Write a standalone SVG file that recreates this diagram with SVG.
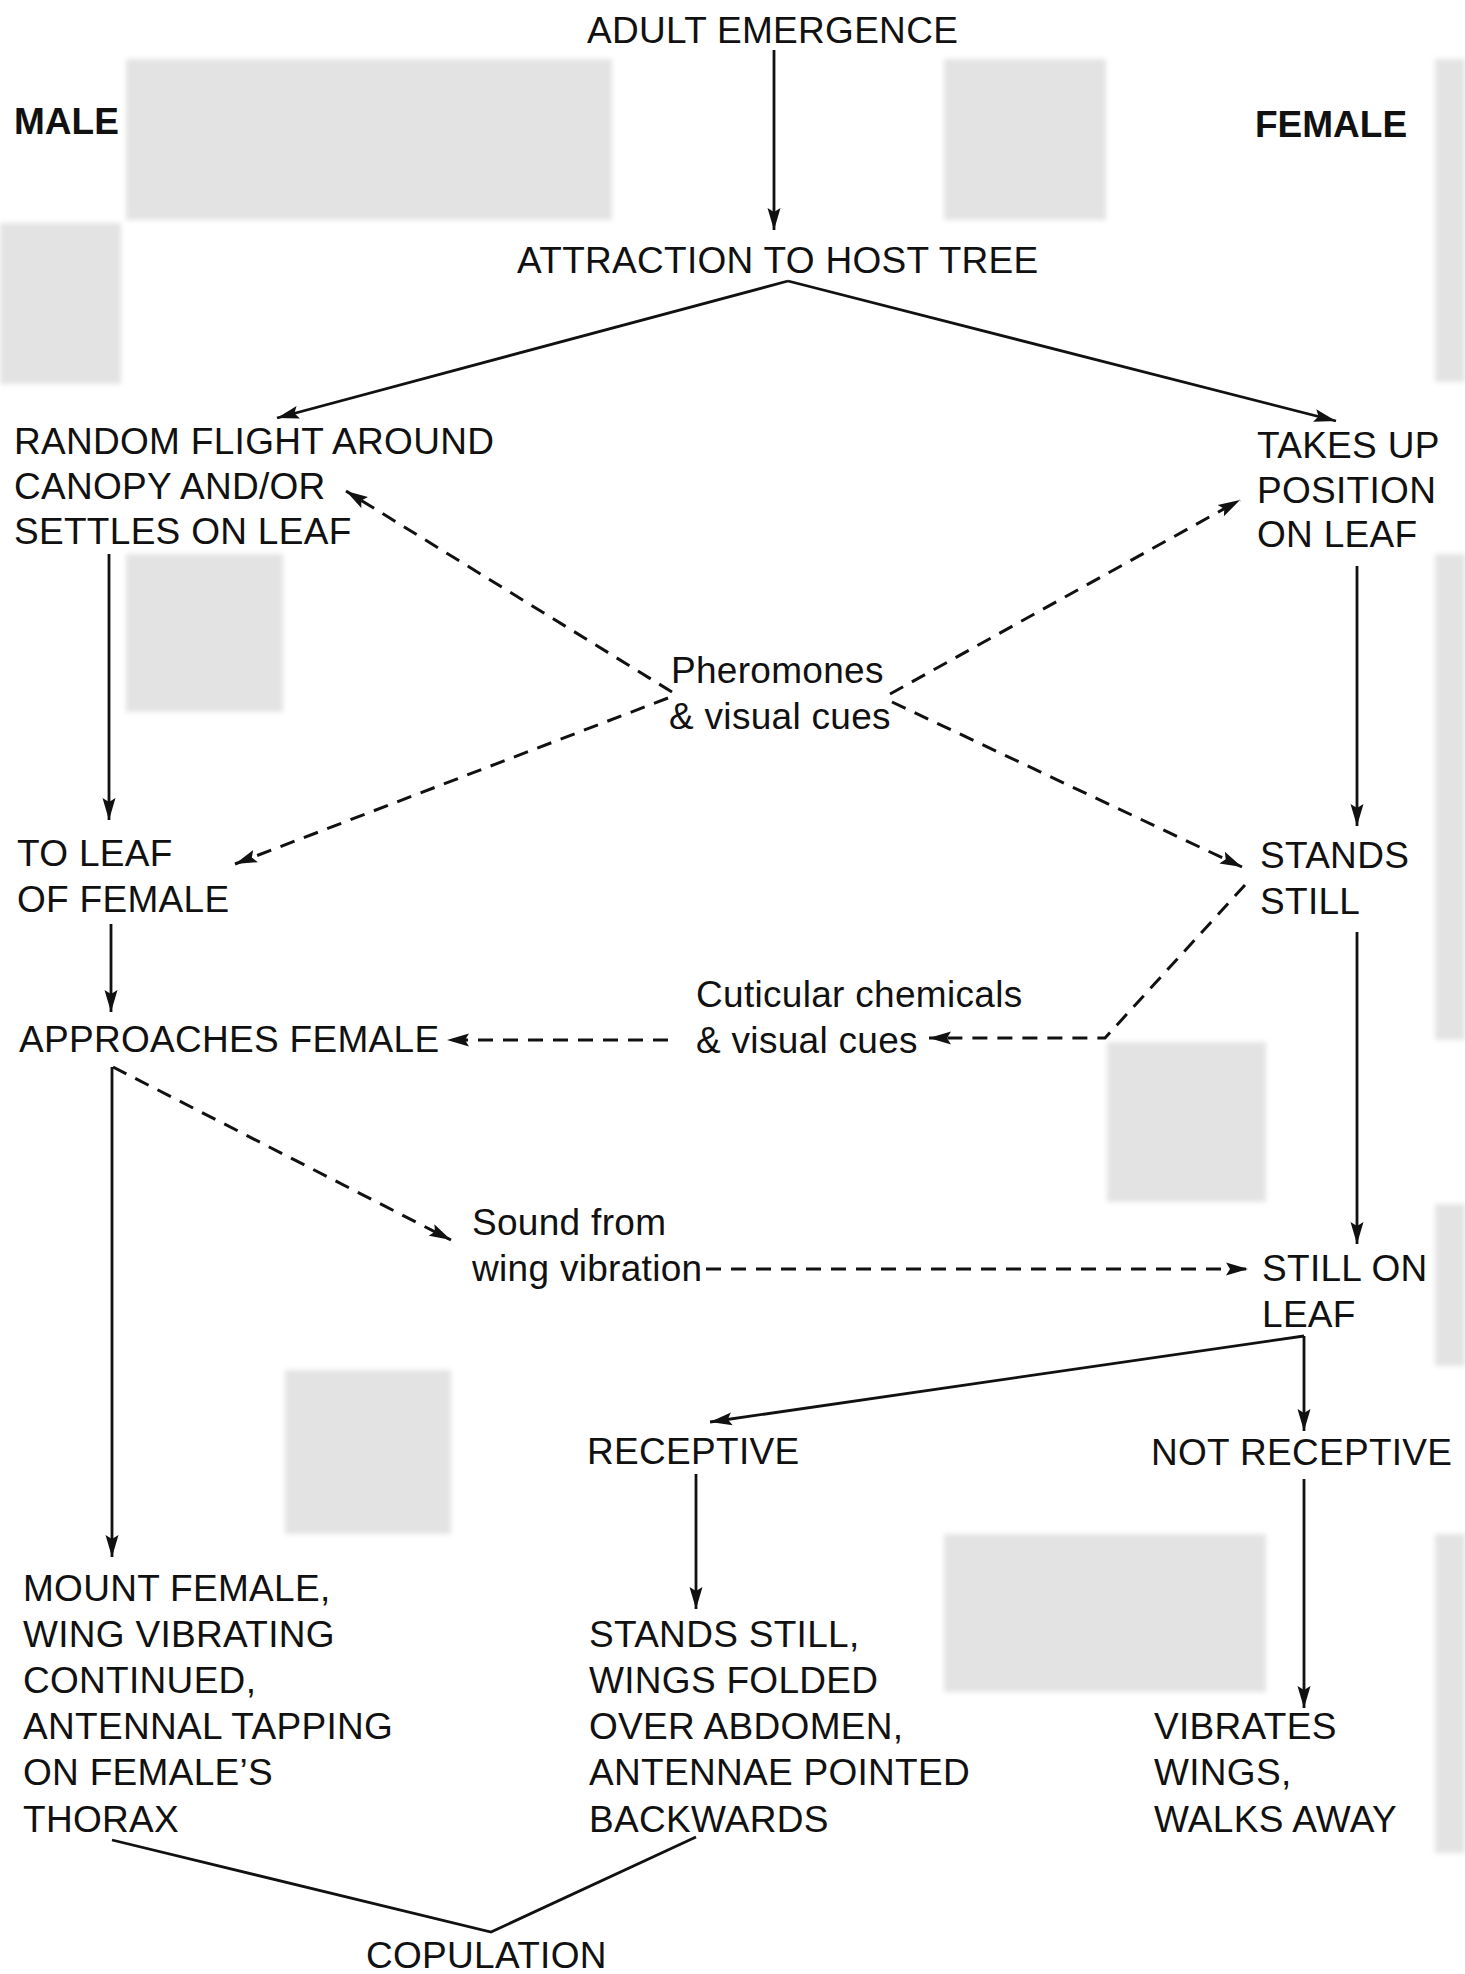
<svg xmlns="http://www.w3.org/2000/svg" width="1465" height="1974" viewBox="0 0 1465 1974">
<style>
  text { font-family: "Liberation Sans", Arial, Helvetica, sans-serif; font-size: 37px; fill: #111; letter-spacing: 0.3px; }
  .b { font-weight: bold; letter-spacing: 0; }
  .ln { fill: none; stroke: #111; stroke-width: 2.8; }
  .sol { marker-end: url(#ah); }
  .dsh { stroke-dasharray: 15 10; stroke-width: 3; marker-end: url(#ah); }
  .bg rect { fill: #e3e3e3; }
</style>
<defs>
  <marker id="ah" markerUnits="userSpaceOnUse" markerWidth="24" markerHeight="14" refX="22" refY="7" orient="auto">
    <path d="M0,0.5 L22,7 L0,13.5 L4,7 z" fill="#111"/>
  </marker>
  <filter id="soft" x="-5%" y="-5%" width="110%" height="110%"><feGaussianBlur stdDeviation="2.5"/></filter>
</defs>
<rect x="0" y="0" width="1465" height="1974" fill="#ffffff"/>
<g class="bg" filter="url(#soft)">
  <rect x="126" y="59" width="486" height="161"/>
  <rect x="944" y="59" width="162" height="161"/>
  <rect x="0" y="223" width="121" height="161"/>
  <rect x="1435" y="59" width="30" height="323"/>
  <rect x="126" y="554" width="157" height="158"/>
  <rect x="1435" y="554" width="30" height="486"/>
  <rect x="1107" y="1042" width="159" height="160"/>
  <rect x="1435" y="1204" width="30" height="162"/>
  <rect x="285" y="1370" width="166" height="164"/>
  <rect x="944" y="1534" width="322" height="158"/>
  <rect x="1435" y="1534" width="30" height="319"/>
</g>
<g id="connectors">
  <path class="ln sol" d="M774,50 L774,230"/>
  <path class="ln sol" d="M788,281 L277,418"/>
  <path class="ln sol" d="M788,281 L1336,421"/>
  <path class="ln sol" d="M109,554 L109,820"/>
  <path class="ln sol" d="M1357,566 L1357,826"/>
  <path class="ln sol" d="M111,924 L111,1012"/>
  <path class="ln sol" d="M1357,932 L1357,1244"/>
  <path class="ln sol" d="M112,1067 L112,1557"/>
  <path class="ln sol" d="M1304,1336 L710,1422"/>
  <path class="ln sol" d="M1304,1336 L1304,1431"/>
  <path class="ln sol" d="M696,1474 L696,1609"/>
  <path class="ln sol" d="M1304,1479 L1304,1708"/>
  <path class="ln" d="M112,1840 L491,1932 L696,1837"/>
  <path class="ln dsh" d="M672,692 L346,491"/>
  <path class="ln dsh" d="M668,698 L235,864"/>
  <path class="ln dsh" d="M890,694 L1240,500"/>
  <path class="ln dsh" d="M892,702 L1242,867"/>
  <path class="ln dsh" d="M1245,885 L1105,1038 L929,1038"/>
  <path class="ln dsh" d="M668,1040 L447,1040"/>
  <path class="ln dsh" d="M113,1067 L451,1240"/>
  <path class="ln dsh" d="M706,1269 L1248,1269"/>
</g>
<g id="n-adult"><text x="587" y="43">ADULT EMERGENCE</text></g>
<g id="n-male"><text class="b" x="14" y="134">MALE</text></g>
<g id="n-female"><text class="b" x="1255" y="137">FEMALE</text></g>
<g id="n-attraction"><text x="517" y="273">ATTRACTION TO HOST TREE</text></g>
<g id="n-random"><text x="14" y="454">RANDOM FLIGHT AROUND</text><text x="14" y="499">CANOPY AND/OR</text><text x="14" y="544">SETTLES ON LEAF</text></g>
<g id="n-takes"><text x="1257" y="458">TAKES UP</text><text x="1257" y="503">POSITION</text><text x="1257" y="547">ON LEAF</text></g>
<g id="n-pheromones"><text x="671" y="683">Pheromones</text><text x="669" y="729">&amp; visual cues</text></g>
<g id="n-toleaf"><text x="17" y="866">TO LEAF</text><text x="17" y="912">OF FEMALE</text></g>
<g id="n-stands"><text x="1260" y="868">STANDS</text><text x="1260" y="914">STILL</text></g>
<g id="n-cuticular"><text x="696" y="1007">Cuticular chemicals</text><text x="696" y="1053">&amp; visual cues</text></g>
<g id="n-approaches"><text x="19" y="1052">APPROACHES FEMALE</text></g>
<g id="n-sound"><text x="472" y="1235">Sound from</text><text x="472" y="1281">wing vibration</text></g>
<g id="n-stillon"><text x="1262" y="1281">STILL ON</text><text x="1262" y="1327">LEAF</text></g>
<g id="n-receptive"><text x="587" y="1464">RECEPTIVE</text></g>
<g id="n-notreceptive"><text x="1151" y="1465">NOT RECEPTIVE</text></g>
<g id="n-mount"><text x="23" y="1601">MOUNT FEMALE,</text><text x="23" y="1647">WING VIBRATING</text><text x="23" y="1693">CONTINUED,</text><text x="23" y="1739">ANTENNAL TAPPING</text><text x="23" y="1785">ON FEMALE’S</text><text x="23" y="1832">THORAX</text></g>
<g id="n-standsstill"><text x="589" y="1647">STANDS STILL,</text><text x="589" y="1693">WINGS FOLDED</text><text x="589" y="1739">OVER ABDOMEN,</text><text x="589" y="1785">ANTENNAE POINTED</text><text x="589" y="1832">BACKWARDS</text></g>
<g id="n-vibrates"><text x="1154" y="1739">VIBRATES</text><text x="1154" y="1785">WINGS,</text><text x="1154" y="1832">WALKS AWAY</text></g>
<g id="n-copulation"><text x="366" y="1968">COPULATION</text></g>
</svg>
